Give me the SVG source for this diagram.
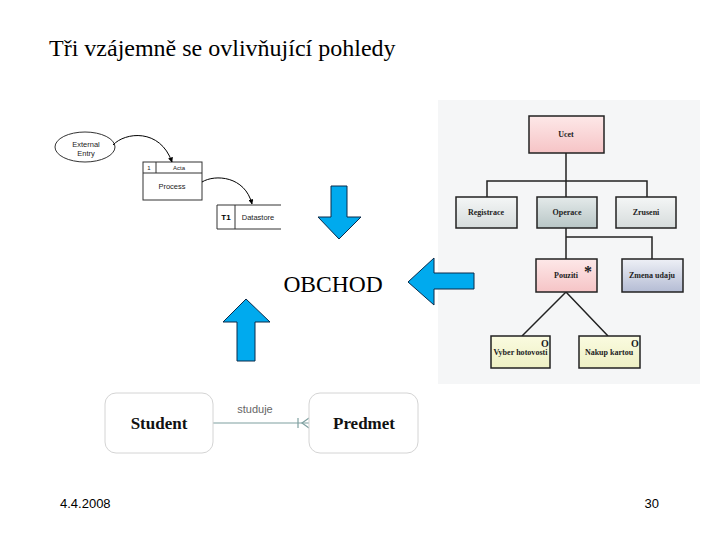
<svg xmlns="http://www.w3.org/2000/svg" width="720" height="540" viewBox="0 0 720 540">
<defs>
<style>
.serif{font-family:"Liberation Serif","Times New Roman",serif;fill:#000}
.sans{font-family:"Liberation Sans",Arial,sans-serif;fill:#000}
.arrow{fill:#00aaee;stroke:#0a2a4a;stroke-width:1}
.tbox{stroke:#222;stroke-width:1.5}
.tline{stroke:#222;stroke-width:1.5;fill:none}
.tt{font-family:"Liberation Serif","Times New Roman",serif;font-size:8px;font-weight:bold;fill:#222;text-anchor:middle}
.dfd{fill:#fff;stroke:#333;stroke-width:1}
.dt{font-family:"Liberation Sans",Arial,sans-serif;font-size:7.5px;fill:#222;text-anchor:middle}
.er{fill:#fff;stroke:#d4d4d4;stroke-width:1}
.ert{font-family:"Liberation Serif","Times New Roman",serif;font-size:17px;font-weight:bold;fill:#111;text-anchor:middle}
</style>
<linearGradient id="gPink" x1="0" y1="0" x2="0" y2="1"><stop offset="0" stop-color="#fde8e8"/><stop offset="1" stop-color="#f6c4c6"/></linearGradient>
<linearGradient id="gGrey" x1="0" y1="0" x2="0" y2="1"><stop offset="0" stop-color="#f4f6f6"/><stop offset="1" stop-color="#d6dcdc"/></linearGradient>
<linearGradient id="gTeal" x1="0" y1="0" x2="0" y2="1"><stop offset="0" stop-color="#e4eaea"/><stop offset="1" stop-color="#b8c6c6"/></linearGradient>
<linearGradient id="gBlue" x1="0" y1="0" x2="0" y2="1"><stop offset="0" stop-color="#eef0f6"/><stop offset="1" stop-color="#b4bcd4"/></linearGradient>
<linearGradient id="gYel" x1="0" y1="0" x2="0" y2="1"><stop offset="0" stop-color="#fafbe0"/><stop offset="1" stop-color="#eef0c4"/></linearGradient>
<marker id="ah" viewBox="0 0 10 10" refX="9" refY="5" markerWidth="5" markerHeight="5" orient="auto"><path d="M0,0 L10,5 L0,10 z" fill="#000"/></marker>
</defs>
<rect width="720" height="540" fill="#fff"/>

<text class="serif" x="49" y="56" font-size="24">Tři vzájemně se ovlivňující pohledy</text>

<!-- DFD -->
<g id="dfd">
<g id="external-entry">
<ellipse class="dfd" cx="85" cy="147" rx="30" ry="15"/>
<text class="dt" x="86" y="147">External</text>
<text class="dt" x="86" y="156">Entry</text>
</g>
<g id="process">
<rect class="dfd" x="143" y="162" width="59" height="38"/>
<line x1="143" y1="173" x2="202" y2="173" stroke="#333"/>
<line x1="156" y1="162" x2="156" y2="173" stroke="#333"/>
<text class="dt" x="149" y="170" style="font-size:6px">1</text>
<text class="dt" x="179" y="170" style="font-size:6px">Acta</text>
<text class="dt" x="172" y="189">Process</text>
</g>
<g id="datastore">
<path d="M281,205 H217 V229 H281 M235,205 V229" fill="none" stroke="#333" stroke-width="1"/>
<text class="sans" x="226" y="220" font-size="8" font-weight="bold" text-anchor="middle">T1</text>
<text class="dt" x="258" y="220">Datastore</text>
</g>
<g id="dfd-connectors" fill="none" stroke="#000" stroke-width="1">
<path d="M113,145 C125,132 160,128 172,162" marker-end="url(#ah)"/>
<path d="M202,182 C215,174 245,176 252,204" marker-end="url(#ah)"/>
</g>
</g>

<!-- tree -->
<g id="tree">
<rect x="438" y="100" width="262" height="284" fill="#f5f6f7"/>
<g id="tree-connectors">
<path class="tline" d="M566,153 V197 M487,197 V181 H647 V197 M566,228 V259 M566,237 H652 V259 M566,292 L522,336 M566,292 L608,336"/>
</g>
<g id="ucet"><rect class="tbox" x="529" y="116" width="75" height="37" fill="url(#gPink)"/><text class="tt" x="566" y="137">Ucet</text></g>
<g id="registrace"><rect class="tbox" x="456" y="197" width="61" height="31" fill="url(#gGrey)"/><text class="tt" x="486" y="215">Registrace</text></g>
<g id="operace"><rect class="tbox" x="537" y="197" width="60" height="31" fill="url(#gTeal)"/><text class="tt" x="567" y="215">Operace</text></g>
<g id="zruseni"><rect class="tbox" x="616" y="197" width="60" height="31" fill="url(#gGrey)"/><text class="tt" x="646" y="215">Zruseni</text></g>
<g id="pouziti"><rect class="tbox" x="536" y="259" width="61" height="33" fill="url(#gPink)"/><text class="tt" x="566" y="278">Pouziti</text><text class="tt" x="588" y="277" style="font-size:16px">*</text></g>
<g id="zmena-udaju"><rect class="tbox" x="622" y="259" width="61" height="33" fill="url(#gBlue)"/><text class="tt" x="652" y="278">Zmena udaju</text></g>
<g id="vyber-hotovosti"><rect class="tbox" x="491" y="336" width="59" height="32" fill="url(#gYel)"/><text class="tt" x="520.5" y="355" textLength="54" lengthAdjust="spacingAndGlyphs">Vyber hotovosti</text><text class="tt" x="545" y="347" style="font-size:10px">O</text></g>
<g id="nakup-kartou"><rect class="tbox" x="579" y="336" width="61" height="32" fill="url(#gYel)"/><text class="tt" x="609" y="355">Nakup kartou</text><text class="tt" x="635" y="347" style="font-size:10px">O</text></g>
</g>

<!-- center -->
<text class="serif" x="333" y="292" font-size="23.5" text-anchor="middle">OBCHOD</text>
<g id="arrows">
<polygon class="arrow" points="331,186 347,186 347,217 361,217 339,239 318,217 331,217"/>
<polygon class="arrow" points="237,361 255,361 255,322 270,322 246,299 223,322 237,322"/>
<polygon class="arrow" points="474,273 474,289 434,289 434,305 408,282 434,258 434,273"/>
</g>

<!-- ER -->
<g id="er">
<g id="er-connectors" stroke="#7fa0a0" stroke-width="1.2" fill="none">
<line x1="213" y1="423" x2="309" y2="423"/>
<line x1="298" y1="418" x2="298" y2="428"/>
<path d="M309,418 L302,423 L309,428"/>
</g>
<text class="sans" x="255" y="413" font-size="11" text-anchor="middle" style="fill:#666">studuje</text>
<g id="student"><rect class="er" x="105" y="393" width="108" height="60" rx="11"/><text class="ert" x="159" y="429">Student</text></g>
<g id="predmet"><rect class="er" x="309" y="393" width="109" height="60" rx="11"/><text class="ert" x="364" y="429">Predmet</text></g>
</g>

<text class="sans" x="60" y="508" font-size="13">4.4.2008</text>
<text class="sans" x="659" y="508" font-size="13" text-anchor="end">30</text>
</svg>
